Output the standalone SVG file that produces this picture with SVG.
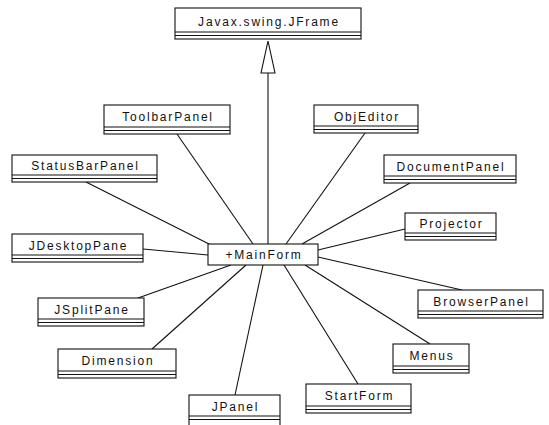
<svg xmlns="http://www.w3.org/2000/svg" width="549" height="425" viewBox="0 0 549 425">
  <style>
    .box { fill: #ffffff; stroke: #111111; stroke-width: 1.1; }
    .sep { stroke: #111111; stroke-width: 1.1; fill: none; }
    .lbl { font-family: "Liberation Sans", Arial, sans-serif; font-size: 12px; letter-spacing: 1.8px; fill: #111111; text-anchor: middle; }
    .edge { stroke: #111111; stroke-width: 1.1; fill: none; }
  </style>
  <rect width="549" height="425" fill="#ffffff"/>

  <!-- connectors -->
  <g id="connectors">
    <line class="edge" x1="268" y1="73" x2="268" y2="244"/>
    <polygon class="box" points="268,41 261,73 275,73"/>
    <line class="edge" x1="177" y1="134" x2="253" y2="244"/>
    <line class="edge" x1="365" y1="133" x2="286" y2="244"/>
    <line class="edge" x1="86" y1="182" x2="211" y2="245"/>
    <line class="edge" x1="410" y1="183" x2="302" y2="244"/>
    <line class="edge" x1="143" y1="249" x2="208" y2="255"/>
    <line class="edge" x1="405" y1="229" x2="318" y2="250"/>
    <line class="edge" x1="138" y1="298" x2="231" y2="265"/>
    <line class="edge" x1="462" y1="290" x2="318" y2="257"/>
    <line class="edge" x1="152" y1="349" x2="246" y2="265"/>
    <line class="edge" x1="430" y1="344" x2="305" y2="265"/>
    <line class="edge" x1="235" y1="395" x2="263" y2="265"/>
    <line class="edge" x1="358" y1="384" x2="284" y2="265"/>
  </g>

  <!-- class nodes -->
  <g id="jframe">
    <rect class="box" x="175" y="8" width="186" height="31"/>
    <path class="sep" d="M175 32H361M175 35.5H361"/>
    <text class="lbl" x="269" y="25.5">Javax.swing.JFrame</text>
  </g>
  <g id="toolbarpanel">
    <rect class="box" x="104" y="105" width="126" height="29"/>
    <path class="sep" d="M104 127H230M104 130.5H230"/>
    <text class="lbl" x="168" y="121">ToolbarPanel</text>
  </g>
  <g id="objeditor">
    <rect class="box" x="314" y="105" width="104" height="28"/>
    <path class="sep" d="M314 126H418M314 129.5H418"/>
    <text class="lbl" x="367" y="121">ObjEditor</text>
  </g>
  <g id="statusbarpanel">
    <rect class="box" x="12" y="155" width="145" height="27"/>
    <path class="sep" d="M12 175H157M12 178.5H157"/>
    <text class="lbl" x="85.5" y="170">StatusBarPanel</text>
  </g>
  <g id="documentpanel">
    <rect class="box" x="384" y="155" width="132" height="28"/>
    <path class="sep" d="M384 176H516M384 179.5H516"/>
    <text class="lbl" x="451" y="171">DocumentPanel</text>
  </g>
  <g id="projector">
    <rect class="box" x="405" y="213" width="91" height="27"/>
    <path class="sep" d="M405 233H496M405 236.5H496"/>
    <text class="lbl" x="451.5" y="228">Projector</text>
  </g>
  <g id="jdesktoppane">
    <rect class="box" x="12" y="234" width="131" height="28"/>
    <path class="sep" d="M12 255H143M12 258.5H143"/>
    <text class="lbl" x="78.5" y="250">JDesktopPane</text>
  </g>
  <g id="mainform">
    <rect class="box" x="208" y="244" width="110" height="21"/>
    <text class="lbl" x="264" y="259">+MainForm</text>
  </g>
  <g id="browserpanel">
    <rect class="box" x="418" y="290" width="125" height="28"/>
    <path class="sep" d="M418 311H543M418 314.5H543"/>
    <text class="lbl" x="481.5" y="306">BrowserPanel</text>
  </g>
  <g id="jsplitpane">
    <rect class="box" x="38" y="298" width="106" height="28"/>
    <path class="sep" d="M38 319H144M38 322.5H144"/>
    <text class="lbl" x="92" y="314">JSplitPane</text>
  </g>
  <g id="menus">
    <rect class="box" x="393" y="344" width="76" height="29"/>
    <path class="sep" d="M393 366H469M393 369.5H469"/>
    <text class="lbl" x="432" y="360">Menus</text>
  </g>
  <g id="dimension">
    <rect class="box" x="58" y="349" width="118" height="29"/>
    <path class="sep" d="M58 371H176M58 374.5H176"/>
    <text class="lbl" x="118" y="365">Dimension</text>
  </g>
  <g id="startform">
    <rect class="box" x="306" y="384" width="105" height="29"/>
    <path class="sep" d="M306 406H411M306 409.5H411"/>
    <text class="lbl" x="359.5" y="400">StartForm</text>
  </g>
  <g id="jpanel">
    <rect class="box" x="189" y="395" width="91" height="34"/>
    <path class="sep" d="M189 416H280M189 419.5H280"/>
    <text class="lbl" x="235.5" y="411">JPanel</text>
  </g>
</svg>
